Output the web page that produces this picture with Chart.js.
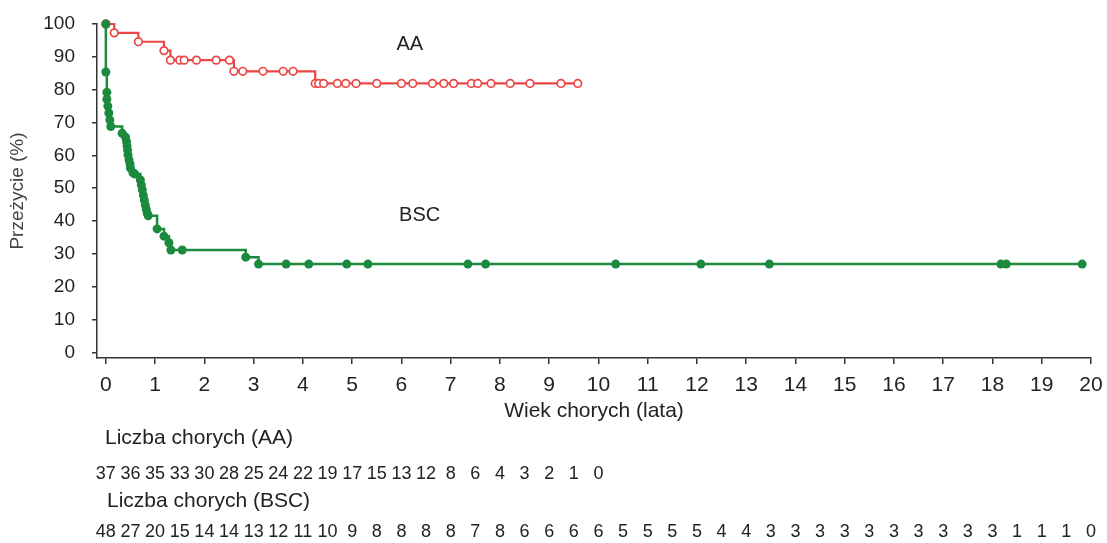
<!DOCTYPE html>
<html>
<head>
<meta charset="utf-8">
<script src="https://cdn.jsdelivr.net/npm/chart.js@4.4.0/dist/chart.umd.min.js"></script>
<style>
  html, body { margin: 0; padding: 0; background: #fff; }
</style>
</head>
<body>
<canvas id="kmChart" width="1107" height="543"></canvas>
<script>
// Kaplan-Meier curves (time in years, survival in %)
const aaTimes = [0, 0.17, 0.66, 1.18, 1.31, 1.50, 1.59, 1.84, 2.24, 2.51, 2.60, 2.78, 3.19, 3.60, 3.80,
  4.25, 4.32, 4.42, 4.70, 4.87, 5.08, 5.50, 6.00, 6.23, 6.63, 6.86, 7.06, 7.42, 7.55, 7.82, 8.21, 8.61, 9.24, 9.58];
const aaSurv = [100, 97.3, 94.6, 91.9, 89.0, 89.0, 89.0, 89.0, 89.0, 89.0, 85.6, 85.6, 85.6, 85.6, 85.6,
  81.9, 81.9, 81.9, 81.9, 81.9, 81.9, 81.9, 81.9, 81.9, 81.9, 81.9, 81.9, 81.9, 81.9, 81.9, 81.9, 81.9, 81.9, 81.9];

const bscTimes = [0, 0, 0.02, 0.02, 0.04, 0.06, 0.08, 0.10, 0.33, 0.40, 0.42, 0.43, 0.44, 0.45, 0.47, 0.49, 0.50,
  0.55, 0.59, 0.70, 0.72, 0.74, 0.76, 0.78, 0.80, 0.82, 0.84, 0.86, 1.04, 1.18, 1.28, 1.32, 1.55, 2.84, 3.10,
  3.66, 4.12, 4.89, 5.32, 7.35, 7.71, 10.35, 12.08, 13.47, 18.17, 18.28, 19.82];
const bscSurv = [100, 85.4, 79.2, 77.1, 75.0, 72.9, 70.8, 68.8, 66.7, 65.5, 64.2, 62.9, 61.6, 60.1, 58.6, 57.4, 56.1,
  54.7, 54.3, 52.5, 51.0, 49.5, 47.9, 46.4, 44.9, 43.6, 42.4, 41.6, 37.6, 35.4, 33.4, 31.2, 31.2, 29.0, 26.9,
  26.9, 26.9, 26.9, 26.9, 26.9, 26.9, 26.9, 26.9, 26.9, 26.9, 26.9, 26.9];

// axis ticks
const xTicks = [0, 1, 2, 3, 4, 5, 6, 7, 8, 9, 10, 11, 12, 13, 14, 15, 16, 17, 18, 19, 20];
const yTicks = [0, 10, 20, 30, 40, 50, 60, 70, 80, 90, 100];

// numbers at risk, every half year
const riskTimes = Array.from({length: 41}, (_, i) => i / 2);
const riskAA = [37, 36, 35, 33, 30, 28, 25, 24, 22, 19, 17, 15, 13, 12, 8, 6, 4, 3, 2, 1, 0];
const riskBSC = [48, 27, 20, 15, 14, 14, 13, 12, 11, 10, 9, 8, 8, 8, 8, 7, 8, 6, 6, 6, 6, 5, 5, 5, 5, 4, 4,
  3, 3, 3, 3, 3, 3, 3, 3, 3, 3, 1, 1, 1, 0];

const FONT = 'Liberation Sans, Arial, sans-serif';
const TEXT = '#222';
const RED = '#ec4646';
const GREEN = '#1b8a3c';

const toPoints = (ts, ss) => ts.map((t, i) => ({x: t, y: ss[i]}));

const labelsPlugin = {
  id: 'kmText',
  afterDraw(chart) {
    const {ctx, scales: {x, y}} = chart;
    ctx.save();
    ctx.fillStyle = TEXT;
    ctx.textBaseline = 'middle';
    ctx.font = '20px ' + FONT;
    ctx.textAlign = 'center';
    ctx.fillText('AA', x.getPixelForValue(6.17), y.getPixelForValue(93.9));
    ctx.fillText('BSC', x.getPixelForValue(6.37), y.getPixelForValue(41.6));

    ctx.textAlign = 'left';
    ctx.font = '21px ' + FONT;
    ctx.fillText('Liczba chorych (AA)', 105, 438);
    ctx.fillText('Liczba chorych (BSC)', 107, 501);

    ctx.textAlign = 'center';
    ctx.font = '18px ' + FONT;
    riskAA.forEach((n, i) => ctx.fillText(String(n), x.getPixelForValue(riskTimes[i]), 474));
    riskBSC.forEach((n, i) => ctx.fillText(String(n), x.getPixelForValue(riskTimes[i]), 532));
    ctx.restore();
  }
};

new Chart(document.getElementById('kmChart'), {
  type: 'line',
  data: {
    datasets: [
      {
        label: 'BSC',
        data: toPoints(bscTimes, bscSurv),
        stepped: 'before',
        borderColor: GREEN,
        borderWidth: 2.5,
        pointRadius: 4.5,
        pointBackgroundColor: GREEN,
        pointBorderColor: GREEN,
        pointBorderWidth: 0,
        clip: false
      },
      {
        label: 'AA',
        data: toPoints(aaTimes, aaSurv),
        stepped: 'before',
        borderColor: RED,
        borderWidth: 2.2,
        pointRadius: 3.8,
        pointBackgroundColor: '#fff',
        pointBorderColor: RED,
        pointBorderWidth: 1.7,
        clip: false
      }
    ]
  },
  options: {
    responsive: false,
    animation: false,
    devicePixelRatio: 1,
    layout: {padding: {left: 6, top: 24, right: 16, bottom: 119}},
    plugins: {legend: {display: false}, tooltip: {enabled: false}},
    scales: {
      x: {
        type: 'linear',
        min: -0.18,
        max: 20,
        afterBuildTicks: s => { s.ticks = xTicks.map(v => ({value: v})); },
        afterFit: s => { s.height = 66; s.paddingLeft = 0; s.paddingRight = 0; },
        ticks: {font: {family: FONT, size: 21}, color: TEXT, padding: 9, maxRotation: 0, autoSkip: false},
        grid: {drawOnChartArea: false, drawTicks: true, tickLength: 6, tickColor: '#333', lineWidth: 1.5},
        border: {display: true, color: '#333', width: 1.5},
        title: {display: true, text: 'Wiek chorych (lata)', font: {family: FONT, size: 21}, color: TEXT, padding: 0}
      },
      y: {
        min: -1.7,
        max: 100,
        afterBuildTicks: s => { s.ticks = yTicks.map(v => ({value: v})); },
        afterFit: s => { s.width = 91; s.paddingTop = 0; s.paddingBottom = 0; },
        ticks: {font: {family: FONT, size: 19}, color: TEXT, padding: 17},
        grid: {drawOnChartArea: false, drawTicks: true, tickLength: 5, tickColor: '#333', lineWidth: 1.5},
        border: {display: true, color: '#333', width: 1.5},
        title: {display: true, text: 'Przeżycie (%)', font: {family: FONT, size: 19}, color: '#444', padding: 0}
      }
    }
  },
  plugins: [labelsPlugin]
});
</script>
</body>
</html>
